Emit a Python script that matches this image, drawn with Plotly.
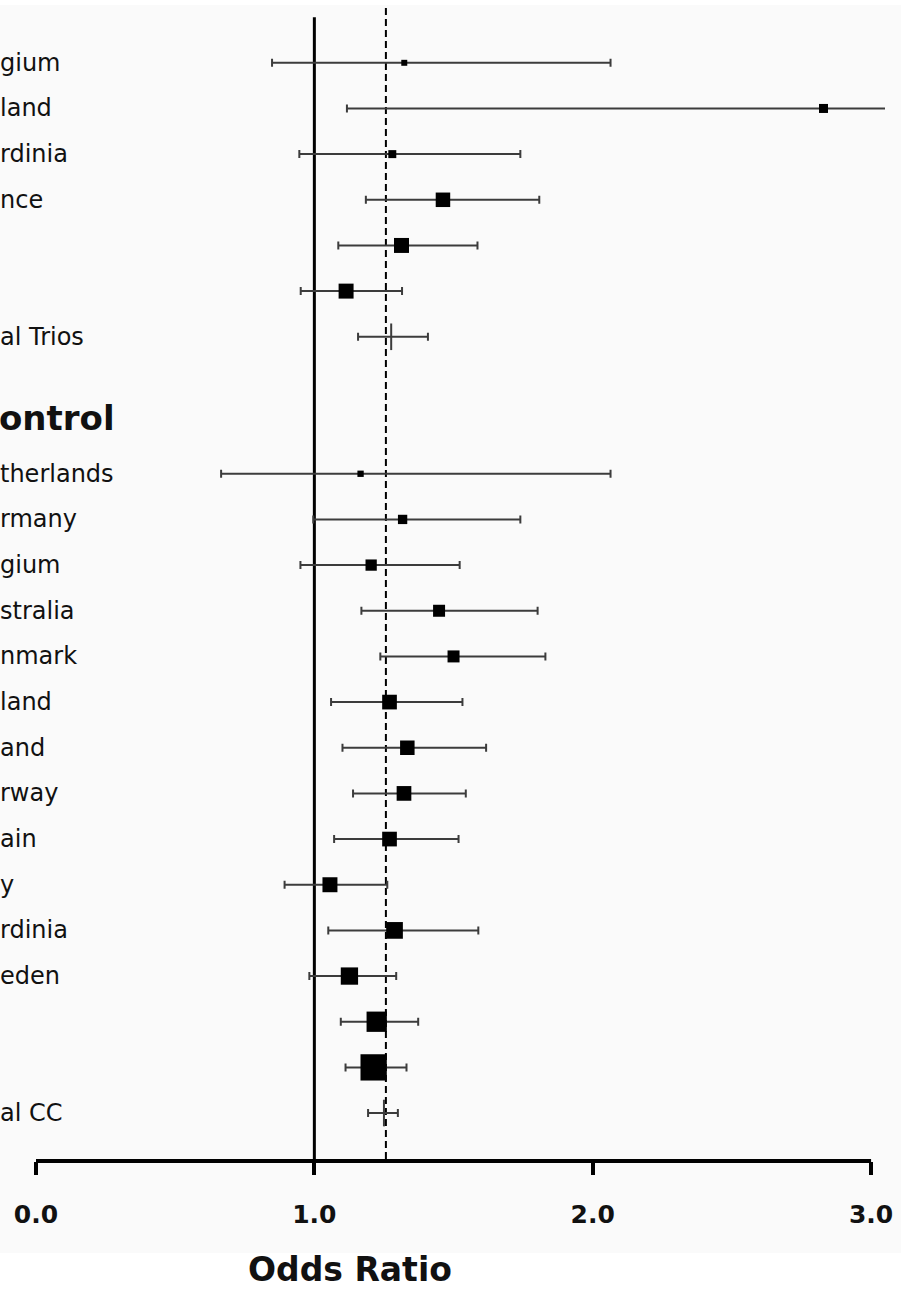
import plotly.graph_objects as go
import math

# ---------------- data ----------------
trio_labels = ["gium", "land", "rdinia", "nce", "", ""]
trio_or = [1.323, 2.829, 1.280, 1.462, 1.313, 1.114]
trio_lo = [0.848, 1.117, 0.946, 1.185, 1.086, 0.951]
trio_hi = [2.064, 3.200, 1.740, 1.808, 1.586, 1.315]
trio_weight = [5.1, 11.6, 9.1, 30.0, 32.1, 32.1]

trio_total_label = "al Trios"
trio_total = [1.276, 1.157, 1.408]  # OR, lower, upper

cc_header = "ontrol"
cc_labels = ["therlands", "rmany", "gium", "stralia", "nmark", "land", "and",
             "rway", "ain", "y", "rdinia", "eden", "", ""]
cc_or = [1.166, 1.317, 1.204, 1.448, 1.500, 1.270, 1.334, 1.322, 1.270,
         1.056, 1.288, 1.126, 1.224, 1.213]
cc_lo = [0.665, 0.996, 0.950, 1.169, 1.237, 1.060, 1.101, 1.139, 1.071,
         0.893, 1.050, 0.982, 1.095, 1.112]
cc_hi = [2.064, 1.740, 1.522, 1.802, 1.830, 1.532, 1.617, 1.544, 1.518,
         1.262, 1.589, 1.294, 1.373, 1.331]
cc_weight = [5.7, 12.4, 18.2, 20.6, 20.6, 30.9, 30.0, 30.9, 30.9, 32.1,
             39.8, 42.8, 58.9, 98.8]

cc_total_label = "al CC"
cc_total = [1.250, 1.193, 1.300]

pooled_or = 1.257
x_ticks = [0, 1, 2, 3]
x_tick_text = ["0.0", "1.0", "2.0", "3.0"]
x_title = "Odds Ratio"

# ---------------- row layout ----------------
trio_y = list(range(len(trio_labels)))
trio_total_y = len(trio_labels)
cc_start = trio_total_y + 3
cc_y = [cc_start + i for i in range(len(cc_labels))]
cc_total_y = cc_start + len(cc_labels)
header_y = trio_total_y + 1.78
Y_TOP, Y_BOTTOM = -1.2, cc_total_y + 1.05

study_x = trio_or + cc_or
study_y = trio_y + cc_y
study_lo = trio_lo + cc_lo
study_hi = trio_hi + cc_hi
study_w = trio_weight + cc_weight
sizes = [math.sqrt(w * 7.0) for w in study_w]

BG = "#FAFAFA"
BAR = "#3c3c3c"
LABEL_FONT = dict(family="DejaVu Sans", size=24, color="#111111")

fig = go.Figure()

# light grey panel (first so that everything else is drawn over it)
fig.add_shape(type="rect", xref="paper", yref="paper",
              x0=-0.045, x1=1.02, y0=-0.0798, y1=1.0026,
              fillcolor=BG, line=dict(width=0), layer="below")
# reference lines
fig.add_shape(type="line", xref="x", yref="y", x0=1, x1=1, y0=-1, y1=Y_BOTTOM,
              line=dict(color="black", width=3), layer="below")
fig.add_shape(type="line", xref="x", yref="y", x0=pooled_or, x1=pooled_or,
              y0=Y_TOP, y1=Y_BOTTOM,
              line=dict(color="black", width=2, dash="7px,4px"), layer="below")
# bottom axis line (0 to 3)
fig.add_shape(type="line", xref="x", yref="paper", x0=x_ticks[0], x1=x_ticks[-1],
              y0=0, y1=0, line=dict(color="black", width=4))

fig.add_trace(go.Scatter(
    x=study_x, y=study_y, mode="markers",
    marker=dict(symbol="square", size=sizes, color="black", opacity=1,
                line=dict(width=0)),
    error_x=dict(type="data", symmetric=False,
                 array=[h - o for h, o in zip(study_hi, study_x)],
                 arrayminus=[o - l for o, l in zip(study_x, study_lo)],
                 color=BAR, thickness=2, width=4),
    showlegend=False, hoverinfo="x+y",
))

tot_x = [trio_total[0], cc_total[0]]
tot_y = [trio_total_y, cc_total_y]
fig.add_trace(go.Scatter(
    x=tot_x, y=tot_y, mode="markers",
    marker=dict(symbol="line-ns-open", size=19, color=BAR, opacity=1,
                line=dict(width=2, color=BAR)),
    error_x=dict(type="data", symmetric=False,
                 array=[trio_total[2] - trio_total[0], cc_total[2] - cc_total[0]],
                 arrayminus=[trio_total[0] - trio_total[1], cc_total[0] - cc_total[1]],
                 color=BAR, thickness=2, width=4),
    showlegend=False, hoverinfo="x+y",
))

annotations = []
for lab, yy in zip(trio_labels + [trio_total_label] + cc_labels + [cc_total_label],
                   trio_y + [trio_total_y] + cc_y + [cc_total_y]):
    if lab:
        annotations.append(dict(text=lab, xref="paper", yref="y", x=0, y=yy,
                                xanchor="left", yanchor="middle", xshift=-38,
                                showarrow=False, font=LABEL_FONT))
annotations.append(dict(text=cc_header, xref="paper", yref="y", x=0, y=header_y,
                        xanchor="left", yanchor="middle", xshift=-39,
                        showarrow=False,
                        font=dict(family="DejaVu Sans", size=34, color="#111111",
                                  weight="bold")))
annotations.append(dict(text=x_title, xref="paper", yref="paper", x=0.370,
                        y=-0.0945, xanchor="center", yanchor="middle",
                        showarrow=False,
                        font=dict(family="DejaVu Sans", size=33, color="#111111",
                                  weight="bold")))

fig.update_layout(
    width=901, height=1289,
    margin=dict(l=36, r=11, t=8, b=128),
    paper_bgcolor="white", plot_bgcolor=BG,
    annotations=annotations,
    xaxis=dict(range=[0, 3.05], showgrid=False, zeroline=False, showline=False,
               tickmode="array", tickvals=x_ticks, ticktext=x_tick_text,
               ticks="outside", ticklen=13, tickwidth=4, tickcolor="black",
               ticklabelstandoff=18,
               tickfont=dict(family="DejaVu Sans", size=25, color="#111111",
                             weight="bold")),
    yaxis=dict(range=[Y_BOTTOM, Y_TOP], showgrid=False, zeroline=False,
               showline=False, showticklabels=False, ticks=""),
)

fig.write_html("out.html")
